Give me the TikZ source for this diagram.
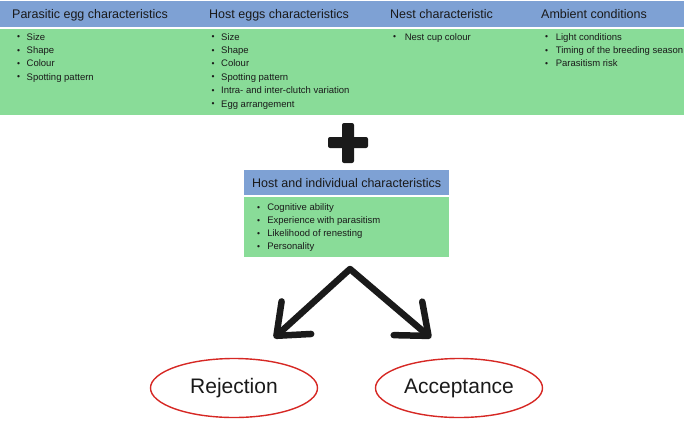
\documentclass[tikz,border=0pt]{standalone}
\usepackage{fontspec}
\setmainfont{Liberation Sans}
\usetikzlibrary{arrows.meta,shapes.geometric,positioning}
\definecolor{headblue}{RGB}{126,161,212}
\definecolor{listgreen}{RGB}{137,220,152}
\definecolor{ovalred}{RGB}{214,40,36}
\definecolor{inkblack}{RGB}{26,26,26}
\newcommand{\bul}[1][9.5pt]{\makebox[#1][l]{\fontsize{8.5}{8.5}\selectfont\raisebox{0.4pt}{•}}}
\begin{document}
\begin{tikzpicture}%
	[x=1pt, y=-1pt,
	band/.style={fill=headblue, draw=none},
	listbox/.style={fill=listgreen, draw=none},
	header/.style={anchor=base west, inner sep=0pt, text=inkblack, font=\fontsize{12.5}{15}\selectfont},
	bullets/.style={anchor=north west, inner sep=0pt, align=left, text=inkblack, font=\fontsize{9.5}{13.4}\selectfont},
	outcome/.style={ellipse, draw=ovalred, line width=1.4pt, minimum width=167pt, minimum height=59pt, inner sep=0pt, text=inkblack, font=\fontsize{21}{25}\selectfont},
	choice/.style={draw=inkblack, line width=6.5pt, line cap=round, line join=round, >={Straight Barb[length=27pt, width=44pt, round]}, <->}]
%
\useasboundingbox (0,0) rectangle (685,421);
%%
%% Top row: the four groups of cues
%%
\fill[band] (0,1) rectangle (684,27);
\fill[listbox] (0,29) rectangle (684,115);
\node[header] (parasitic) at (12,18) {Parasitic egg characteristics};
\node[header] (hosteggs) at (209,18) {Host eggs characteristics};
\node[header] (nest) at (390,18) {Nest characteristic};
\node[header] (ambient) at (541,18) {Ambient conditions};
\node[bullets] (parasiticlist) at (17,33.1) {\bul Size\\ \bul Shape\\ \bul Colour\\ \bul Spotting pattern};
\node[bullets] (hosteggslist) at (211.5,33.1) {\bul Size\\ \bul Shape\\ \bul Colour\\ \bul Spotting pattern\\ \bul Intra- and inter-clutch variation\\ \bul Egg arrangement};
\node[bullets] (nestlist) at (393,33.1) {\bul[9pt] Nest cup colour};
\node[bullets] (ambientlist) at (545,33.1) {\bul[8pt] Light conditions\\ \bul[8pt] Timing of the breeding season\\ \bul[8pt] Parasitism risk};
%%
%% The plus sign
%%
\fill[inkblack, rounded corners=2pt] (328,137) rectangle (368,148);
\fill[inkblack, rounded corners=2pt] (342,123) rectangle (354,163);
%%
%% Host and individual characteristics
%%
\fill[band] (244,170) rectangle (449,195);
\fill[listbox] (244,197) rectangle (449,257);
\node[header] (individual) at (252,187) {Host and individual characteristics};
\node[bullets, font=\fontsize{9.5}{12.9}\selectfont] (individuallist) at (257,203.8) {\bul[7.5pt] Cognitive ability\\ \bul[7.5pt] Experience with parasitism\\ \bul[7.5pt] Likelihood of renesting\\ \bul[7.5pt] Personality};
%%
%% Outcomes
%%
\node[outcome] (rejection) at (234,388) {Rejection};
\node[outcome] (acceptance) at (459,388) {Acceptance};
\coordinate (apex) at (350,269);
\coordinate (rejecttip) at (274,338);
\coordinate (accepttip) at (431,338);
\draw[choice] (rejecttip) -- (apex) -- (accepttip);
%%
\end{tikzpicture}
\end{document}
